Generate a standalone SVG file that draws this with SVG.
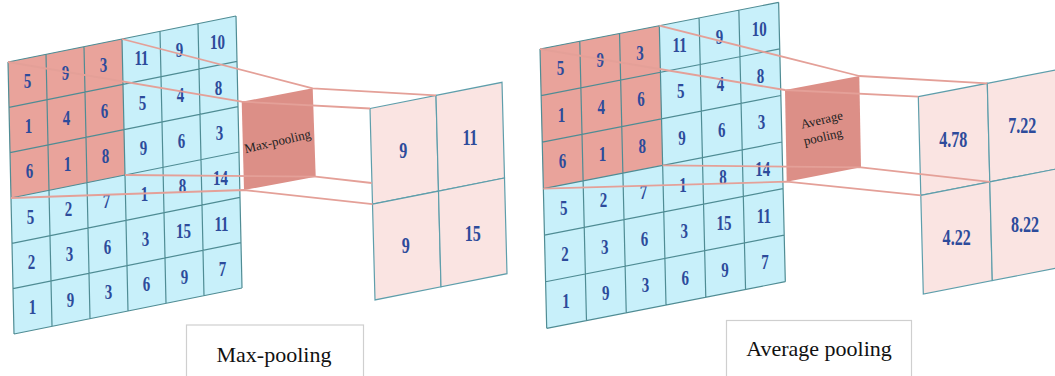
<svg xmlns="http://www.w3.org/2000/svg" width="1055" height="376" viewBox="0 0 1055 376">
<style>
.bg{fill:#ffffff}
.blue{fill:#c8f0fa}
.red{fill:#e9a39b}
.gl{fill:none;stroke:#4f8c94;stroke-width:1.2;vector-effect:non-scaling-stroke}
.out{fill:#fae4e2;stroke:#5e9eab;stroke-width:1.2}
.pool{fill:#dc8f87}
.conn{fill:none;stroke:#e4a098;stroke-width:1.8;stroke-linejoin:round}
.n{font-family:"Liberation Serif","Times New Roman",serif;font-weight:bold;font-size:20px;fill:#2d4b9b;text-anchor:middle}
.o{font-family:"Liberation Serif","Times New Roman",serif;font-weight:bold;font-size:23px;fill:#2d4b9b;text-anchor:middle}
.pt{font-family:"Liberation Serif","Times New Roman",serif;font-size:13px;fill:#222;text-anchor:middle}
.lbl{font-family:"Liberation Serif","Times New Roman",serif;font-size:22px;fill:#111;text-anchor:middle}
.box{fill:#fff;stroke:#cfcfcf;stroke-width:1.2}
</style>
<rect class="bg" x="0" y="0" width="1055" height="376"/>

<!-- LEFT INPUT GRID -->
<g id="left-input">
  <g transform="matrix(38,-7.667,1,45.333,8,62)">
    <polygon class="blue" points="0,0 6,0 6,6 0,6"/>
    <polygon class="red" points="0,0 3,0 3,3 0,3"/>
    <path class="gl" d="M0,0H6M0,1H6M0,2H6M0,3H6M0,4H6M0,5H6M0,6H6M0,0V6M1,0V6M2,0V6M3,0V6M4,0V6M5,0V6M6,0V6"/>
  </g>
  <g>
    <text class="n" transform="translate(27.5,87.6) scale(0.75,1)">5</text>
    <text class="n" transform="translate(65.5,80) scale(0.75,1)">9</text>
    <text class="n" transform="translate(103.5,72.3) scale(0.75,1)">3</text>
    <text class="n" transform="translate(141.5,64.6) scale(0.75,1)">11</text>
    <text class="n" transform="translate(179.5,57) scale(0.75,1)">9</text>
    <text class="n" transform="translate(217.5,49.3) scale(0.75,1)">10</text>

    <text class="n" transform="translate(28.5,133) scale(0.75,1)">1</text>
    <text class="n" transform="translate(66.5,125.3) scale(0.75,1)">4</text>
    <text class="n" transform="translate(104.5,117.6) scale(0.75,1)">6</text>
    <text class="n" transform="translate(142.5,110) scale(0.75,1)">5</text>
    <text class="n" transform="translate(180.5,102.3) scale(0.75,1)">4</text>
    <text class="n" transform="translate(218.5,94.6) scale(0.75,1)">8</text>

    <text class="n" transform="translate(29.5,178.3) scale(0.75,1)">6</text>
    <text class="n" transform="translate(67.5,170.6) scale(0.75,1)">1</text>
    <text class="n" transform="translate(105.5,163) scale(0.75,1)">8</text>
    <text class="n" transform="translate(143.5,155.3) scale(0.75,1)">9</text>
    <text class="n" transform="translate(181.5,147.6) scale(0.75,1)">6</text>
    <text class="n" transform="translate(219.5,140) scale(0.75,1)">3</text>

    <text class="n" transform="translate(30.5,223.6) scale(0.75,1)">5</text>
    <text class="n" transform="translate(68.5,216) scale(0.75,1)">2</text>
    <text class="n" transform="translate(106.5,208.3) scale(0.75,1)">7</text>
    <text class="n" transform="translate(144.5,200.6) scale(0.75,1)">1</text>
    <text class="n" transform="translate(182.5,193) scale(0.75,1)">8</text>
    <text class="n" transform="translate(220.5,185.3) scale(0.75,1)">14</text>

    <text class="n" transform="translate(31.5,269) scale(0.75,1)">2</text>
    <text class="n" transform="translate(69.5,261.3) scale(0.75,1)">3</text>
    <text class="n" transform="translate(107.5,253.6) scale(0.75,1)">6</text>
    <text class="n" transform="translate(145.5,246) scale(0.75,1)">3</text>
    <text class="n" transform="translate(183.5,238.3) scale(0.75,1)">15</text>
    <text class="n" transform="translate(221.5,230.6) scale(0.75,1)">11</text>

    <text class="n" transform="translate(32.5,314.3) scale(0.75,1)">1</text>
    <text class="n" transform="translate(70.5,306.6) scale(0.75,1)">9</text>
    <text class="n" transform="translate(108.5,299) scale(0.75,1)">3</text>
    <text class="n" transform="translate(146.5,291.3) scale(0.75,1)">6</text>
    <text class="n" transform="translate(184.5,283.6) scale(0.75,1)">9</text>
    <text class="n" transform="translate(222.5,276) scale(0.75,1)">7</text>
  </g>
</g>

<!-- LEFT POOL -->
<g id="left-pool">
  <polygon class="pool" points="241.7,101.7 312.7,88.3 315.7,176.7 244,190"/>
  <text class="pt" transform="translate(278.5,145.5) rotate(-13)">Max-pooling</text>
</g>

<!-- LEFT OUTPUT -->
<g id="left-output">
  <polygon class="out" points="370,108.5 436,95.4 438.5,191.1 372.5,204.2"/>
  <polygon class="out" points="436,95.4 502,82.3 504.5,178 438.5,191.1"/>
  <polygon class="out" points="372.5,204.2 438.5,191.1 441,286.8 375,299.9"/>
  <polygon class="out" points="438.5,191.1 504.5,178 507,273.7 441,286.8"/>
  <text class="o" transform="translate(403.3,157.8) scale(0.7,1)">9</text>
  <text class="o" transform="translate(470,144.5) scale(0.7,1)">11</text>
  <text class="o" transform="translate(405.7,252.8) scale(0.7,1)">9</text>
  <text class="o" transform="translate(472.7,240.5) scale(0.7,1)">15</text>
</g>

<!-- RIGHT INPUT GRID -->
<g id="right-input">
  <g transform="matrix(39.77,-7.77,1.117,46.55,540,49)">
    <polygon class="blue" points="0,0 6,0 6,6 0,6"/>
    <polygon class="red" points="0,0 3,0 3,3 0,3"/>
    <path class="gl" d="M0,0H6M0,1H6M0,2H6M0,3H6M0,4H6M0,5H6M0,6H6M0,0V6M1,0V6M2,0V6M3,0V6M4,0V6M5,0V6M6,0V6"/>
  </g>
  <g>
    <text class="n" transform="translate(560.4,75.2) scale(0.75,1)">5</text>
    <text class="n" transform="translate(600.2,67.4) scale(0.75,1)">9</text>
    <text class="n" transform="translate(640,59.7) scale(0.75,1)">3</text>
    <text class="n" transform="translate(679.7,51.9) scale(0.75,1)">11</text>
    <text class="n" transform="translate(719.5,44.1) scale(0.75,1)">9</text>
    <text class="n" transform="translate(759.3,36.3) scale(0.75,1)">10</text>

    <text class="n" transform="translate(561.5,121.7) scale(0.75,1)">1</text>
    <text class="n" transform="translate(601.3,114) scale(0.75,1)">4</text>
    <text class="n" transform="translate(641.1,106.2) scale(0.75,1)">6</text>
    <text class="n" transform="translate(680.8,98.4) scale(0.75,1)">5</text>
    <text class="n" transform="translate(720.6,90.7) scale(0.75,1)">4</text>
    <text class="n" transform="translate(760.4,82.9) scale(0.75,1)">8</text>

    <text class="n" transform="translate(562.6,168.3) scale(0.75,1)">6</text>
    <text class="n" transform="translate(602.4,160.5) scale(0.75,1)">1</text>
    <text class="n" transform="translate(642.2,152.8) scale(0.75,1)">8</text>
    <text class="n" transform="translate(681.9,145) scale(0.75,1)">9</text>
    <text class="n" transform="translate(721.7,137.2) scale(0.75,1)">6</text>
    <text class="n" transform="translate(761.5,129.4) scale(0.75,1)">3</text>

    <text class="n" transform="translate(563.8,214.8) scale(0.75,1)">5</text>
    <text class="n" transform="translate(603.6,207.1) scale(0.75,1)">2</text>
    <text class="n" transform="translate(643.4,199.3) scale(0.75,1)">7</text>
    <text class="n" transform="translate(683.1,191.5) scale(0.75,1)">1</text>
    <text class="n" transform="translate(722.9,183.7) scale(0.75,1)">8</text>
    <text class="n" transform="translate(762.7,176) scale(0.75,1)">14</text>

    <text class="n" transform="translate(564.9,261.4) scale(0.75,1)">2</text>
    <text class="n" transform="translate(604.7,253.6) scale(0.75,1)">3</text>
    <text class="n" transform="translate(644.5,245.8) scale(0.75,1)">6</text>
    <text class="n" transform="translate(684.2,238.1) scale(0.75,1)">3</text>
    <text class="n" transform="translate(724,230.3) scale(0.75,1)">15</text>
    <text class="n" transform="translate(763.8,222.5) scale(0.75,1)">11</text>

    <text class="n" transform="translate(566,307.9) scale(0.75,1)">1</text>
    <text class="n" transform="translate(605.8,300.2) scale(0.75,1)">9</text>
    <text class="n" transform="translate(645.6,292.4) scale(0.75,1)">3</text>
    <text class="n" transform="translate(685.3,284.6) scale(0.75,1)">6</text>
    <text class="n" transform="translate(725.1,276.9) scale(0.75,1)">9</text>
    <text class="n" transform="translate(764.9,269.1) scale(0.75,1)">7</text>
  </g>
</g>

<!-- RIGHT POOL -->
<g id="right-pool">
  <polygon class="pool" points="785,90 859.3,76 861,167.3 786.7,181.7"/>
  <text class="pt" transform="translate(822.7,124) rotate(-13)">Average</text>
  <text class="pt" transform="translate(824,141) rotate(-13)">pooling</text>
</g>

<!-- RIGHT OUTPUT -->
<g id="right-output">
  <polygon class="out" points="918.3,96.7 987.3,83.3 989.8,181.9 920.8,195.3"/>
  <polygon class="out" points="987.3,83.3 1056.3,69.9 1058.8,168.5 989.8,181.9"/>
  <polygon class="out" points="920.8,195.3 989.8,181.9 992.3,280.6 923.3,294"/>
  <polygon class="out" points="989.8,181.9 1058.8,168.5 1061.3,267.2 992.3,280.6"/>
  <text class="o" transform="translate(953.3,147.1) scale(0.7,1)">4.78</text>
  <text class="o" transform="translate(1022.3,132.8) scale(0.7,1)">7.22</text>
  <text class="o" transform="translate(956.7,244.5) scale(0.7,1)">4.22</text>
  <text class="o" transform="translate(1025,231.8) scale(0.7,1)">8.22</text>
</g>

<!-- CONNECTORS -->
<g id="connectors">
  <polyline class="conn" points="122,39 312.7,88.3 436,95.4"/>
  <polyline class="conn" points="8,62 241.7,101.7 370,108.5"/>
  <polyline class="conn" points="125,175 315.7,176.7 371.7,183"/>
  <polyline class="conn" points="11,198 244,190 372.5,204.2"/>
  <polyline class="conn" points="659.3,25.7 859.3,76 987.3,83.3"/>
  <polyline class="conn" points="540,49 785,90 918.3,96.7"/>
  <polyline class="conn" points="662.6,165.3 861,167.3 989.8,181.9"/>
  <polyline class="conn" points="543.4,188.7 786.7,181.7 920.8,195.3"/>
</g>

<!-- LABELS -->
<g id="label-max">
  <rect class="box" x="186.5" y="325" width="177" height="60"/>
  <text class="lbl" x="274" y="362">Max-pooling</text>
</g>
<g id="label-avg">
  <rect class="box" x="726.5" y="320.5" width="185" height="60"/>
  <text class="lbl" x="819" y="356">Average pooling</text>
</g>
</svg>
